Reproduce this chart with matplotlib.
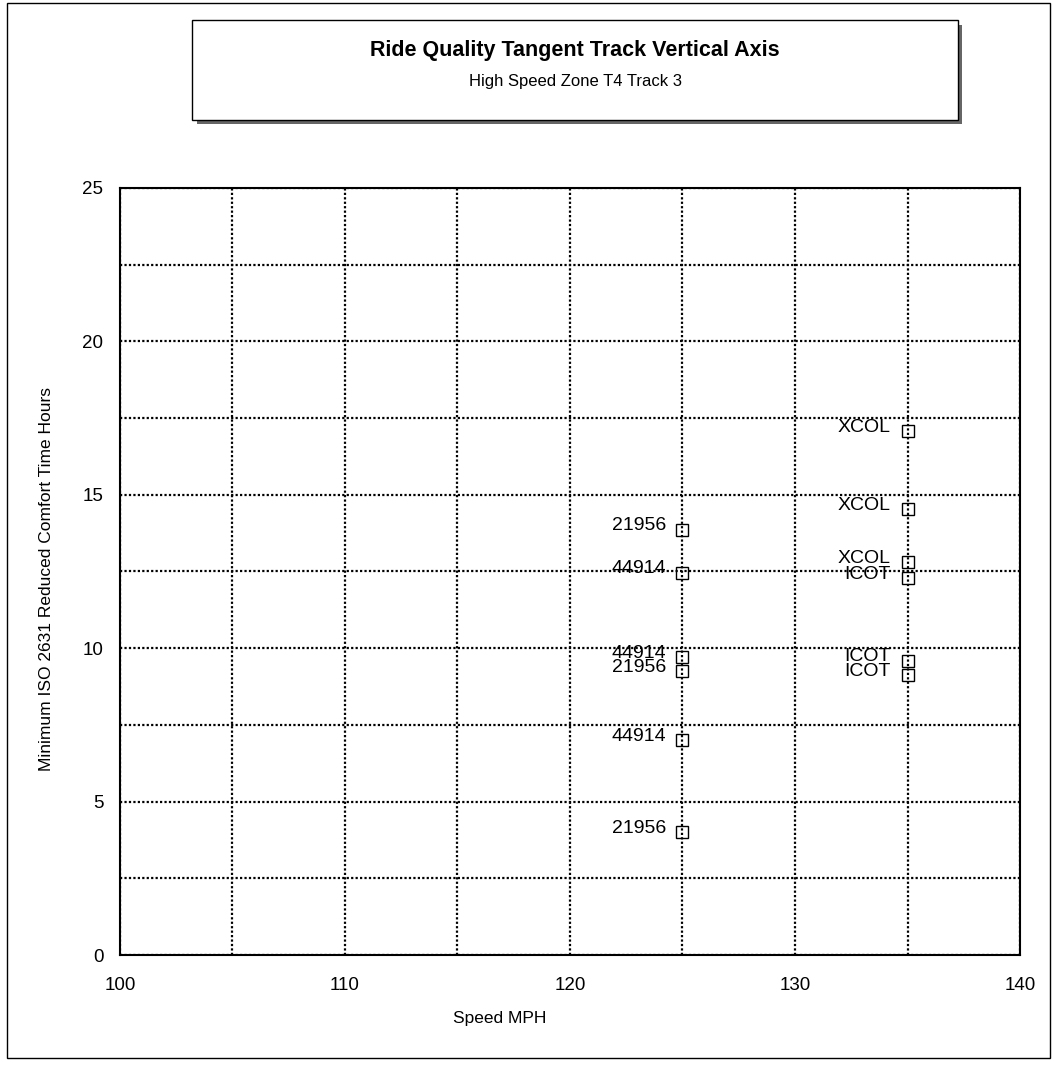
import matplotlib
matplotlib.use('Agg')
import matplotlib.pyplot as plt
from matplotlib.patches import Rectangle

plt.rcParams['font.family'] = ['Liberation Sans', 'DejaVu Sans']

# speed 125 mph vehicles
speed_a = [125, 125, 125, 125, 125, 125]
hours_a = [13.85, 12.45, 9.7, 9.25, 7.0, 4.0]
labels_a = ['21956', '44914', '44914', '21956', '44914', '21956']

# speed 135 mph vehicles
speed_b = [135, 135, 135, 135, 135, 135]
hours_b = [17.07, 14.53, 12.8, 12.28, 9.58, 9.12]
labels_b = ['XCOL', 'XCOL', 'XCOL', 'ICOT', 'ICOT', 'ICOT']

x_ticks = [100, 110, 120, 130, 140]
y_ticks = [0, 5, 10, 15, 20, 25]

fig = plt.figure(figsize=(10.57, 10.71), dpi=100)

# outer frame
fig.add_artist(Rectangle((0.007, 0.012), 0.986, 0.985, transform=fig.transFigure,
                         fill=False, edgecolor='black', linewidth=1.0))

# title box with shadow
fig.add_artist(Rectangle((0.186, 0.884), 0.724, 0.093, transform=fig.transFigure,
                         facecolor='#666666', edgecolor='none'))
fig.add_artist(Rectangle((0.182, 0.888), 0.724, 0.093, transform=fig.transFigure,
                         facecolor='white', edgecolor='black', linewidth=1.0))
fig.text(0.544, 0.953, 'Ride Quality Tangent Track Vertical Axis', ha='center', va='center',
         fontsize=15.5, fontweight='bold')
fig.text(0.544, 0.924, 'High Speed Zone T4 Track 3', ha='center', va='center', fontsize=12)

ax = fig.add_axes([0.1135, 0.1083, 0.8515, 0.7162])

ax.plot(speed_a, hours_a, linestyle='none', marker='s', markersize=8,
        markerfacecolor='none', markeredgecolor='black', markeredgewidth=1.0, zorder=3)
ax.plot(speed_b, hours_b, linestyle='none', marker='s', markersize=8,
        markerfacecolor='none', markeredgecolor='black', markeredgewidth=1.0, zorder=3)

for x, y, s in zip(speed_a, hours_a, labels_a):
    ax.annotate(s, (x, y), xytext=(-12, 3), textcoords='offset points',
                ha='right', va='center', fontsize=14)
for x, y, s in zip(speed_b, hours_b, labels_b):
    ax.annotate(s, (x, y), xytext=(-12, 3), textcoords='offset points',
                ha='right', va='center', fontsize=14)

ax.set_xlim(100, 140)
ax.set_ylim(0, 25)
ax.set_xticks(x_ticks)
ax.set_yticks(y_ticks)
ax.set_xticks([105, 115, 125, 135], minor=True)
ax.set_yticks([2.5, 7.5, 12.5, 17.5, 22.5], minor=True)
ax.grid(True, which='both', color='black', linestyle=(0, (1, 1)), linewidth=1.6)
ax.tick_params(which='both', length=0, labelsize=13.5, pad=12)
ax.tick_params(axis='x', pad=16)
for sp in ax.spines.values():
    sp.set_linewidth(1.5)

ax.set_xlabel('Speed MPH', fontsize=12.5)
ax.xaxis.set_label_coords(0.422, -0.073)
ax.set_ylabel('Minimum ISO 2631 Reduced Comfort Time Hours', fontsize=12.5)
ax.yaxis.set_label_coords(-0.073, 0.49)

fig.savefig('out.png', dpi=100)
